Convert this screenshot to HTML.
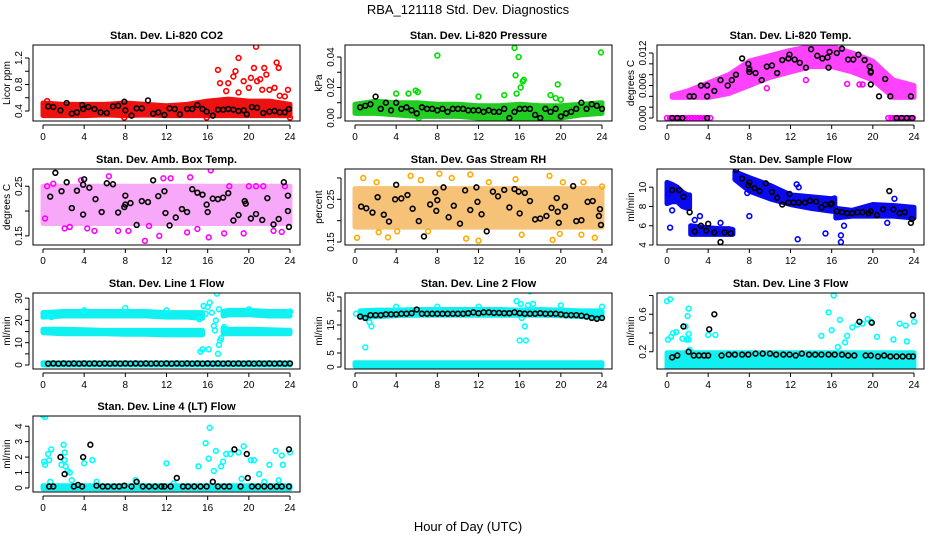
<!DOCTYPE html>
<html><head><meta charset="utf-8">
<style>
html,body{margin:0;padding:0;background:#fff;}
svg{display:block;font-family:"Liberation Sans",sans-serif;}
</style></head>
<body>
<svg id="chart" width="936" height="540" viewBox="0 0 936 540" xmlns="http://www.w3.org/2000/svg">
<rect x="0" y="0" width="936" height="540" fill="#fff"/>
<text x="468" y="14" text-anchor="middle" font-size="13">RBA_121118  Std. Dev. Diagnostics</text>
<text x="468" y="531" text-anchor="middle" font-size="13">Hour of Day (UTC)</text>
</svg>
<script>
// ---------- shared data ----------
const xTicks = [0,4,8,12,16,20,24];
const H13 = [0,2,4,6,8,10,12,14,16,18,20,22,24];
const T48 = [0.5,1,1.5,2,2.5,3,3.5,4,4.5,5,5.5,6,6.5,7,7.5,8,8.5,9,9.5,10,10.5,11,11.5,12,12.5,13,13.5,14,14.5,15,15.5,16,16.5,17,17.5,18,18.5,19,19.5,20,20.5,21,21.5,22,22.5,23,23.5,24];

// ---------- P1 CO2 ----------
const co2BandLo = [0.33,0.33,0.33,0.34,0.33,0.34,0.33,0.33,0.33,0.33,0.33,0.33,0.33];
const co2BandHi = [0.52,0.50,0.50,0.50,0.52,0.50,0.48,0.50,0.55,0.58,0.55,0.55,0.50];
const co2OutX = [17,17.2,17.8,18,18.5,18.7,19,19,19.5,20,20.2,20.5,20.7,20.8,21.1,21.3,21.5,21.7,22,22.5,22.7,22.9,23,23.5,23.8,24,0.4,7.9,15.9];
const co2OutY = [1.02,0.82,0.70,0.82,0.92,1.00,1.20,0.68,0.85,0.75,0.90,1.05,1.37,0.85,0.88,0.72,1.05,0.95,0.72,0.75,1.13,1.05,0.63,0.62,0.72,0.30,0.55,0.30,0.30];
const co2BlkX = [0.5,1,1.7,2.3,2.8,3.3,3.8,3.9,4.4,5,5.6,6.2,6.8,7.3,7.9,8,8.6,9.1,9.6,10.2,10.7,11.2,11.8,12.3,12.8,13.3,14,14.5,15,15.5,15.9,16.5,17,17.5,18,18.5,19,19.5,19.8,20.3,20.8,21.4,22,22.5,23,23.5,23.9];
const co2BlkY = [0.47,0.46,0.41,0.52,0.36,0.38,0.49,0.43,0.46,0.43,0.38,0.37,0.47,0.48,0.54,0.41,0.33,0.44,0.44,0.56,0.36,0.38,0.34,0.44,0.43,0.35,0.43,0.43,0.49,0.43,0.39,0.33,0.42,0.42,0.43,0.42,0.40,0.41,0.35,0.46,0.45,0.37,0.39,0.40,0.38,0.38,0.43];

// ---------- P2 Pressure ----------
const prBandLo = [0.003,0.003,0.002,0.001,0.001,0.001,0.0,0.0,-0.001,-0.001,0.0,0.002,0.003];
const prBandHi = [0.009,0.011,0.010,0.010,0.009,0.009,0.008,0.008,0.009,0.008,0.008,0.009,0.010];
const prOutX = [4,5.2,5.9,6.1,8,12,14.5,15.5,15.6,15.7,15.9,16.1,16.3,16.4,19,19.5,19.7,20,23.9,6.2];
const prOutY = [0.016,0.016,0.018,0.017,0.041,0.014,0.015,0.046,0.028,0.016,0.040,0.020,0.024,0.025,0.015,0.013,0.022,0.012,0.043,0.0];
const prBlkY = [0.007,0.008,0.009,0.014,0.006,0.010,0.005,0.010,0.006,0.007,0.005,0.003,0.007,0.006,0.006,0.005,0.006,0.004,0.006,0.006,0.006,0.005,0.005,0.005,0.004,0.005,0.004,0.004,0.006,0.0,0.004,0.006,0.006,0.006,0.002,0.0,0.006,0.004,0.006,0.001,0.003,0.004,0.006,0.010,0.006,0.009,0.008,0.006];

// ---------- P3 Li-820 Temp ----------
const tmpBandH = [0.5,2,4,6,8,10,12,14,16,18,20,22,24];
const tmpBandLo = [0.0038,0.0038,0.0038,0.0045,0.006,0.0075,0.0085,0.0095,0.0095,0.0085,0.007,0.0038,0.0038];
const tmpBandHi = [0.0042,0.005,0.0065,0.008,0.0105,0.0115,0.0125,0.0132,0.0132,0.012,0.0105,0.007,0.006];
const tmpOutX = [0,0.3,0.6,0.9,1.2,1.5,1.8,2.1,2.4,2.7,3,3.3,3.6,3.9,4.2,21.5,21.8,22.1,22.4,22.7,23,23.3,23.6,23.9,8,9.7,13.5,17.5,18.7,19];
const tmpOutY = [0,0,0,0,0,0,0,0,0,0,0,0,0,0,0,0,0,0,0,0,0,0,0,0,0.0093,0.0055,0.007,0.0063,0.0062,0.0062];
const tmpBlkX = [0.5,1,1.5,2.2,2.6,3.3,3.9,3.9,3.9,4.6,5.2,5.9,6.3,6.7,7.3,7.9,8,8,8.6,9.2,9.7,10.2,10.7,11.2,11.8,11.9,12.4,12.9,13.5,14,14.6,15.1,15.6,15.7,15.8,16.5,17,17.6,18.1,18.6,19.2,19.7,19.8,19.8,19.8,20.6,21.2,21.7,22.3,22.8,23.3,23.7,23.8];
const tmpBlkY = [0,0,0,0.004,0.004,0.006,0.006,0.004,0,0.005,0.007,0.006,0.007,0.008,0.011,0.010,0.009,0.0085,0.0083,0.007,0.0095,0.0097,0.0083,0.0107,0.011,0.0117,0.0108,0.0102,0.0093,0.0127,0.0115,0.011,0.0112,0.0093,0.0122,0.012,0.0128,0.0108,0.0108,0.0117,0.0107,0.0095,0.0084,0.0086,0.0062,0.004,0.0072,0.004,0,0,0,0.004,0];

// ---------- P4 Amb Box Temp ----------
const ambBandH = [0,24];
const ambBandLo = [0.175,0.175];
const ambBandHi = [0.250,0.250];
const ambOutX = [0.4,1,2.6,2.1,4.3,6.4,7.3,9.9,11.3,11.7,12.4,14.3,16.3,16.1,14,17.6,19.5,20,20.7,21.4,22.4,23.2,3.7,5,8.3,15,0.2,10.3,18.1,23.5];
const ambOutY = [0.25,0.255,0.168,0.165,0.165,0.27,0.16,0.14,0.15,0.266,0.266,0.268,0.282,0.147,0.157,0.155,0.155,0.25,0.25,0.25,0.16,0.158,0.262,0.16,0.16,0.164,0.185,0.17,0.25,0.25];
const ambBlkX = [0.7,1.2,1.8,2.3,2.8,3.3,3.9,3.9,4,4.5,5.1,5.7,6.2,6.8,7.3,7.9,8,8,8.5,9.1,9.6,10.2,10.7,11.2,11.8,11.9,12.3,12.9,13.5,14,14.5,15,15.5,15.9,16,16.5,17,17.5,18,18.5,19,19.6,19.7,20.2,20.7,21.3,21.8,22.4,22.9,23.4,23.8,23.8,23.9];
const ambBlkY = [0.229,0.277,0.240,0.258,0.206,0.241,0.193,0.253,0.264,0.247,0.224,0.198,0.256,0.254,0.197,0.208,0.213,0.231,0.216,0.172,0.220,0.218,0.262,0.230,0.240,0.196,0.171,0.187,0.204,0.198,0.244,0.237,0.233,0.213,0.198,0.225,0.224,0.227,0.236,0.181,0.192,0.220,0.215,0.185,0.194,0.182,0.226,0.173,0.184,0.258,0.231,0.200,0.168];

// ---------- P5 Gas Stream RH ----------
const rhBandH = [0,24];
const rhBandLo = [0.185,0.185];
const rhBandHi = [0.275,0.275];
const rhOutX = [0.2,0.8,2.1,2.3,3.2,5.4,6.4,8.2,9.4,10.8,11.2,12,13,15.6,16.2,18.9,19.2,19.9,20.2,22.2,22,23.3,24,4.1,7.1];
const rhOutY = [0.16,0.30,0.29,0.173,0.161,0.305,0.295,0.31,0.30,0.158,0.308,0.153,0.29,0.297,0.167,0.305,0.155,0.169,0.29,0.29,0.167,0.16,0.28,0.175,0.175];
const rhBlkX = [0.6,1.1,1.7,2.2,2.8,3.3,3.9,4,4.5,5.1,5.6,6.2,6.7,7.3,7.8,7.9,8,8.6,9.1,9.6,10.2,10.7,11.2,11.8,11.9,12.3,12.8,13.4,13.9,14.5,15,15.5,15.9,16,16.5,17,17.5,18,18.6,19.1,19.6,19.7,19.8,20.4,21.2,21.5,22,22.6,23.1,23.7,23.8,23.9];
const rhBlkY = [0.233,0.229,0.219,0.255,0.214,0.198,0.250,0.284,0.252,0.260,0.228,0.199,0.163,0.238,0.266,0.223,0.248,0.278,0.208,0.235,0.193,0.271,0.225,0.278,0.244,0.215,0.175,0.268,0.257,0.272,0.231,0.274,0.268,0.217,0.265,0.246,0.203,0.205,0.211,0.230,0.253,0.221,0.195,0.233,0.281,0.199,0.201,0.244,0.246,0.211,0.227,0.190];

// ---------- P6 Sample Flow ----------
const sfBandAH = [0,0.5,1,1.5,2,2.2];
const sfBandALo = [8.3,8.5,8.5,8.0,7.8,7.8];
const sfBandAHi = [10.5,10.3,10.0,9.5,9.2,9.2];
const sfBandBH = [2.3,3,4,5,6,6.4];
const sfBandBLo = [5.1,5.1,5.1,5.1,5.1,5.1];
const sfBandBHi = [6.0,5.9,5.8,5.7,5.7,5.6];
const sfBandCH = [6.6,8,10,12,14,16,16.3];
const sfBandCLo = [10.8,9.6,8.8,8.2,7.8,7.5,7.5];
const sfBandCHi = [11.6,11.0,10.2,9.2,9.0,8.8,8.9];
const sfBandDH = [16.4,18,20,22,24];
const sfBandDLo = [6.8,7.0,7.0,7.0,6.8];
const sfBandDHi = [7.8,7.6,8.2,8.1,7.9];
const sfOutX = [0.3,0.5,3.2,5.2,8,12.6,12.8,12.7,15.4,16.9,16.9,17.2,21.4,22.1,2.7,7.8,0.1];
const sfOutY = [5.8,7.6,7.0,6.3,7.0,10.3,10.0,4.6,5.2,5.0,4.3,6.0,6.3,8.8,6.6,9.4,9.3];
const sfBlkX = [0.5,1.2,1.6,2.2,2.7,3.3,3.8,4,4.6,5.2,5.6,6.2,6.7,7.3,7.9,8,8.5,9,9.6,10.2,10.7,11.2,11.8,11.9,12.3,12.8,13.4,13.9,14.5,15,15.4,15.9,16,16.5,17,17.5,18,18.5,19,19.6,19.8,20.4,21,21.6,22,22.6,23.1,23.7,23.8];
const sfBlkY = [9.7,9.7,9.0,7.4,5.4,6.0,5.5,6.2,5.3,4.3,5.3,5.2,11.8,10.9,10.2,10.5,9.9,9.6,10.4,9.5,8.9,8.2,8.4,9.3,8.4,8.4,8.4,8.6,8.5,7.9,8.2,8.2,8.3,7.5,7.4,7.3,7.3,7.4,7.4,7.3,7.5,7.1,7.7,9.6,7.7,7.3,7.4,6.3,6.7];

// ---------- P7 Line 1 Flow ----------
const l1UpAH = [0,2,4,6,8,10,12,14,15,15.5];
const l1UpALo = [21.5,22,22,22,22,22,21.5,21.5,21,21];
const l1UpAHi = [23.5,24,24,24,24,24,23.5,23.5,23.5,23.5];
const l1UpBH = [17.5,18,20,22,24];
const l1UpBLo = [22,22.5,22.5,22,22];
const l1UpBHi = [24,24.5,24.5,24,24];
const l1LoAH = [0,2,4,6,8,10,12,14,15.5];
const l1LoALo = [14.5,14,14,14,13.8,13.8,13.5,13.5,13.5];
const l1LoAHi = [16,16,15.8,15.5,15.5,15.5,15.5,15.5,15.5];
const l1LoBH = [17.5,18,20,22,24];
const l1LoBLo = [14,14,14,14,14];
const l1LoBHi = [16.5,16,16,15.8,15.5];
const l1ZeroH = [0,24];
const l1ZeroLo = [0,0];
const l1ZeroHi = [1.0,1.0];
const l1OutX = [0.3,0.8,4,8,12,15.2,15.3,15.5,15.6,15.8,16,16.1,16.2,16.4,16.6,16.7,16.8,16.9,17,17.1,17.2,17.3,17.1,17.6,20,24];
const l1OutY = [22,21.5,24.5,25.5,24.5,20.5,6,7,26.5,23,26,7,28,23.5,17.5,15.5,20,32,5,9,11,12,25,17,25,24];
const l1BlkY = [0.6,0.7,0.6,0.7,0.6,0.7,0.6,0.7,0.6,0.7,0.6,0.7,0.6,0.7,0.6,0.7,0.6,0.7,0.6,0.7,0.6,0.7,0.6,0.7,0.6,0.7,0.6,0.7,0.6,0.7,0.6,0.7,0.6,0.7,0.6,0.7,0.6,0.7,0.6,0.7,0.6,0.7,0.6,0.7,0.6,0.7,0.6,0.7];

// ---------- P8 Line 2 Flow ----------
const l2BandH = [0.5,2,4,6,8,10,12,14,16,18,20,22,24];
const l2BandLo = [17.8,18,18.3,18.5,18.5,18.5,18.5,18.5,18.5,18.5,18.3,18,17.5];
const l2BandHi = [20,20.3,20.3,20.5,20.5,20.5,20.5,20.5,20.3,20.5,20.3,20,20];
const l2ZeroH = [0,24];
const l2ZeroLo = [0.3,0.3];
const l2ZeroHi = [1.5,1.5];
const l2OutX = [1,1.4,1.6,4,8,12,15.7,16,16.1,16.2,16.5,16.6,16.8,17,17.3,20,24,0.1];
const l2OutY = [7,16,14.5,21.5,21.5,21.5,23.5,9.5,22.5,17.5,14.5,9.5,22,27,22.5,22,21.5,19];
const l2BlkY = [18,17.5,18.5,18.5,18.5,18.8,18.8,18.8,19,19,19.2,20.5,19,19,19,19,19,19,19,19,19,19.2,19.5,19.2,19.5,19.5,19.3,19.3,19.2,19.2,19.5,19.2,19,19,19,19.2,19,19,19,18.8,18.5,18.5,18.5,18.3,18,17.5,17.2,17.5];

// ---------- P9 Line 3 Flow ----------
const l3BandH = [0,24];
const l3BandLo = [0.03,0.03];
const l3BandHi = [0.19,0.19];
const l3OutX = [0,0.3,0.1,0.4,0.6,0.9,1.5,1.8,2,2.1,2.1,2.1,2.2,4,4.7,15,15.7,16,16.2,16.6,16.8,17.3,17.5,18,18.5,19,19.5,19.8,20.4,22,22.6,23.2,23.3,24,1.9];
const l3OutY = [0.74,0.76,0.33,0.36,0.40,0.41,0.34,0.47,0.58,0.66,0.39,0.33,0.22,0.38,0.38,0.37,0.62,0.43,0.80,0.25,0.54,0.30,0.37,0.46,0.49,0.50,0.55,0.52,0.36,0.33,0.50,0.48,0.31,0.52,0.33];
const l3BlkX = [0.5,1,1.6,2.1,2.6,3.1,3.6,4,4.1,4.6,5.3,6,6.6,7.3,7.9,8.6,9.3,10,10.6,11.3,11.9,12.5,13.1,13.8,14.4,15,15.7,16.3,17,17.6,18.2,18.7,19.3,19.8,19.9,20.5,21.1,21.7,22.3,22.9,23.5,23.9,23.9];
const l3BlkY = [0.14,0.16,0.47,0.20,0.16,0.16,0.16,0.16,0.44,0.60,0.16,0.17,0.17,0.17,0.17,0.18,0.18,0.18,0.17,0.17,0.17,0.16,0.18,0.17,0.17,0.17,0.17,0.17,0.17,0.16,0.16,0.52,0.16,0.16,0.51,0.15,0.16,0.15,0.15,0.15,0.15,0.15,0.59];

// ---------- P10 Line 4 Flow ----------
const l4BandH = [0,24];
const l4BandLo = [-0.05,-0.05];
const l4BandHi = [0.15,0.15];
const l4OutX = [0,0.2,0.1,0.2,0.5,0.6,0.8,1.8,2,2.1,2.1,2.2,2.4,2.6,2.8,4,4.8,12,15.1,15.8,16.1,16.2,16.6,16.8,17.3,17.5,17.8,18.2,19,19.5,19.3,20.2,20.5,21,22,22.6,23.2,23.3,24,0.7,5.2,9,12.7,21.5,22.9];
const l4OutY = [4.7,4.6,1.7,1.5,2.2,1.8,2.5,1.5,2.8,2.3,1.8,1.4,1.1,1.0,0.5,1.6,1.8,1.6,1.4,2.9,1.9,3.9,1.1,2.4,1.4,1.7,2.2,2.2,2.3,2.7,0.6,1.8,1.8,0.9,1.5,2.4,2.1,1.5,2.3,0.4,0.4,0.5,0.3,0.4,0.5];
const l4BlkX = [0.6,1,1.7,2.1,3,3.4,3.8,3.9,4.6,5.2,5.8,6.3,6.9,7.4,7.9,8.6,9.1,9.7,10.3,10.9,11.5,11.8,12.4,13,13.6,14.1,14.7,15.3,15.9,16.5,17,17.6,18.1,18.6,19.2,19.8,19.9,20.3,20.9,21.5,22.1,22.7,23.2,23.9,23.9];
const l4BlkY = [0.1,0.1,2.0,0.9,0.1,0.2,0.1,2.0,2.8,0.15,0.1,0.1,0.1,0.1,0.15,0.1,0.4,0.1,0.1,0.1,0.1,0.1,0.1,0.65,0.1,0.1,0.1,0.1,0.1,0.4,0.1,0.1,0.1,2.5,0.1,2.2,0.65,0.1,0.1,0.1,0.1,0.1,0.1,2.5,0.1];

// ---------- panel configs (layout) ----------
const BOXW = 267, BOXH = 76;
const panels = [
 {name:'co2', title:'Stan. Dev. Li-820 CO2', ylab:'Licor ppm', left:33, top:45, ymin:0.249, ymax:1.396, color:'#ff0000', fill:'#ee1111',
  ticks:[0.4,0.6,0.8,1.0,1.2], labels:[[0.4,'0.4'],[0.8,'0.8'],[1.2,'1.2']],
  bands:[[H13,co2BandLo,co2BandHi]], out:[co2OutX,co2OutY], blk:[co2BlkX,co2BlkY]},
 {name:'pressure', title:'Stan. Dev. Li-820 Pressure', ylab:'kPa', left:345, top:45, ymin:-0.002, ymax:0.0479, color:'#00dd00', fill:'#22cc22',
  ticks:[0,0.01,0.02,0.03,0.04], labels:[[0,'0.00'],[0.02,'0.02'],[0.04,'0.04']],
  bands:[[H13,prBandLo,prBandHi]], out:[prOutX,prOutY], blk:[T48,prBlkY]},
 {name:'temp', title:'Stan. Dev. Li-820 Temp.', ylab:'degrees C', left:657, top:45, ymin:-0.00055, ymax:0.01348, color:'#ff00ff', fill:'#ff22ff',
  ticks:[0,0.002,0.004,0.006,0.008,0.010,0.012], labels:[[0,'0.000'],[0.006,'0.006'],[0.012,'0.012']],
  bands:[[tmpBandH,tmpBandLo,tmpBandHi]], out:[tmpOutX,tmpOutY], blk:[tmpBlkX,tmpBlkY], bandOp:0.85},
 {name:'amb-temp', title:'Stan. Dev. Amb. Box Temp.', ylab:'degrees C', left:33, top:169, ymin:0.1316, ymax:0.2847, color:'#ff00ff', fill:'#f040f0',
  ticks:[0.15,0.20,0.25], labels:[[0.15,'0.15'],[0.25,'0.25']],
  bands:[[ambBandH,ambBandLo,ambBandHi]], out:[ambOutX,ambOutY], blk:[ambBlkX,ambBlkY], bandOp:0.45},
 {name:'rh', title:'Stan. Dev. Gas Stream RH', ylab:'percent', left:345, top:169, ymin:0.143, ymax:0.321, color:'#ffaa00', fill:'#f09a20',
  ticks:[0.15,0.20,0.25,0.30], labels:[[0.15,'0.15'],[0.25,'0.25']],
  bands:[[rhBandH,rhBandLo,rhBandHi]], out:[rhOutX,rhOutY], blk:[rhBlkX,rhBlkY], bandOp:0.6},
 {name:'sample-flow', title:'Stan. Dev. Sample Flow', ylab:'ml/min', left:657, top:169, ymin:4.0, ymax:11.89, color:'#0000ff', fill:'#0a0aee',
  ticks:[4,6,8,10], labels:[[4,'4'],[6,'6'],[8,'8'],[10,'10']],
  bands:[[sfBandAH,sfBandALo,sfBandAHi],[sfBandBH,sfBandBLo,sfBandBHi],[sfBandCH,sfBandCLo,sfBandCHi],[sfBandDH,sfBandDLo,sfBandDHi]], out:[sfOutX,sfOutY], blk:[sfBlkX,sfBlkY]},
 {name:'line1-flow', title:'Stan. Dev. Line 1 Flow', ylab:'ml/min', left:33, top:293, ymin:-1.8, ymax:32.3, color:'#00ffff', fill:'#10f0f0',
  ticks:[0,5,10,15,20,25,30], labels:[[0,'0'],[10,'10'],[20,'20'],[30,'30']],
  bands:[[l1UpAH,l1UpALo,l1UpAHi],[l1UpBH,l1UpBLo,l1UpBHi],[l1LoAH,l1LoALo,l1LoAHi],[l1LoBH,l1LoBLo,l1LoBHi],[l1ZeroH,l1ZeroLo,l1ZeroHi]], out:[l1OutX,l1OutY], blk:[T48,l1BlkY]},
 {name:'line2-flow', title:'Stan. Dev. Line 2 Flow', ylab:'ml/min', left:345, top:293, ymin:-0.7, ymax:26.4, color:'#00ffff', fill:'#10f0f0',
  ticks:[0,5,10,15,20,25], labels:[[0,'0'],[5,'5'],[15,'15'],[25,'25']],
  bands:[[l2BandH,l2BandLo,l2BandHi],[l2ZeroH,l2ZeroLo,l2ZeroHi]], out:[l2OutX,l2OutY], blk:[T48,l2BlkY]},
 {name:'line3-flow', title:'Stan. Dev. Line 3 Flow', ylab:'ml/min', left:657, top:293, ymin:0.016, ymax:0.827, color:'#00ffff', fill:'#10f0f0',
  ticks:[0.2,0.4,0.6,0.8], labels:[[0.2,'0.2'],[0.6,'0.6']],
  bands:[[l3BandH,l3BandLo,l3BandHi]], out:[l3OutX,l3OutY], blk:[l3BlkX,l3BlkY]},
 {name:'line4-flow', title:'Stan. Dev. Line 4 (LT) Flow', ylab:'ml/min', left:33, top:416, ymin:-0.26, ymax:4.66, color:'#00ffff', fill:'#10f0f0',
  ticks:[0,1,2,3,4], labels:[[0,'0'],[1,'1'],[2,'2'],[3,'3'],[4,'4']],
  bands:[[l4BandH,l4BandLo,l4BandHi]], out:[l4OutX,l4OutY], blk:[l4BlkX,l4BlkY]}
];

const NS = 'http://www.w3.org/2000/svg';
const svg = document.getElementById('chart');
function mk(tag, attrs, parent){
  const e = document.createElementNS(NS, tag);
  for (const k in attrs) e.setAttribute(k, attrs[k]);
  (parent||svg).appendChild(e);
  return e;
}

panels.forEach(p => {
  const g = mk('g', {});
  
  
  const L = p.left, T = p.top, B = T + BOXH;
  const xS = h => L + 10 + h * (247/24);
  const yS = v => B - (v - p.ymin) / (p.ymax - p.ymin) * BOXH;

  const clipId = 'clip-' + p.name;
  const cp = mk('clipPath', {id: clipId}, g);
  mk('rect', {x:L, y:T, width:BOXW, height:BOXH}, cp);
  const plot = mk('g', {'clip-path':'url(#'+clipId+')'}, g);
  
  

  p.bands.forEach((b) => {
    const [hs, lo, hi] = b;
    const n = Math.min(hs.length, lo.length, hi.length);
    const pts = [];
    for (let i=0;i<n;i++) pts.push(xS(hs[i]).toFixed(1)+','+yS(hi[i]).toFixed(1));
    for (let i=n-1;i>=0;i--) pts.push(xS(hs[i]).toFixed(1)+','+yS(lo[i]).toFixed(1));
    const poly = mk('polygon', {points: pts.join(' '), fill: p.fill, stroke: p.fill, 'stroke-width': 5, 'stroke-linejoin':'round', opacity: p.bandOp || 1}, plot);
    
    
  });

  const [ox, oy] = p.out;
  for (let i=0;i<Math.min(ox.length, oy.length);i++){
    const c = mk('circle', {cx: xS(ox[i]), cy: yS(oy[i]), r: 2.4, fill:'none', stroke: p.color, 'stroke-width': 1.6}, plot);
    
    
  }
  const [bx, by] = p.blk;
  for (let i=0;i<Math.min(bx.length, by.length);i++){
    const c = mk('circle', {cx: xS(bx[i]), cy: yS(by[i]), r: 2.4, fill:'none', stroke: '#000', 'stroke-width': 1.6}, plot);
    
    
  }

  const box = mk('rect', {x:L, y:T, width:BOXW, height:BOXH, fill:'none', stroke:'#000', 'stroke-width':1}, g);
  
  

  const t = mk('text', {x: L + BOXW/2, y: T - 6, 'text-anchor':'middle', 'font-size': 11, 'font-weight':'bold'}, g);
  t.textContent = p.title;
  
  

  const xa = mk('g', {}, g);
  
  
  mk('line', {x1:xS(0), x2:xS(24), y1:B+4, y2:B+4, stroke:'#000'}, xa);
  xTicks.forEach(h => {
    mk('line', {x1:xS(h), x2:xS(h), y1:B+4, y2:B+8, stroke:'#000'}, xa);
    const tl = mk('text', {x:xS(h), y:B+19, 'text-anchor':'middle', 'font-size':10}, xa);
    tl.textContent = String(h);
    
    
  });

  const ya = mk('g', {}, g);
  
  
  const vis = p.ticks.filter(v => v >= p.ymin && v <= p.ymax);
  mk('line', {x1:L-4, x2:L-4, y1:yS(vis[0]), y2:yS(vis[vis.length-1]), stroke:'#000'}, ya);
  vis.forEach(v => mk('line', {x1:L-8, x2:L-4, y1:yS(v), y2:yS(v), stroke:'#000'}, ya));
  p.labels.forEach(([v, s]) => {
    const yy = yS(v), xx = L - 11;
    const tl = mk('text', {x:xx, y:yy, 'text-anchor':'middle', 'font-size':10, transform:'rotate(-90 '+xx+' '+yy+')'}, ya);
    tl.textContent = s;
    
    
  });
  const yx = L - 23, yy = T + BOXH/2;
  const yl = mk('text', {x:yx, y:yy, 'text-anchor':'middle', 'font-size':10, transform:'rotate(-90 '+yx+' '+yy+')'}, g);
  yl.textContent = p.ylab;
  
  
});
</script>
</body></html>
